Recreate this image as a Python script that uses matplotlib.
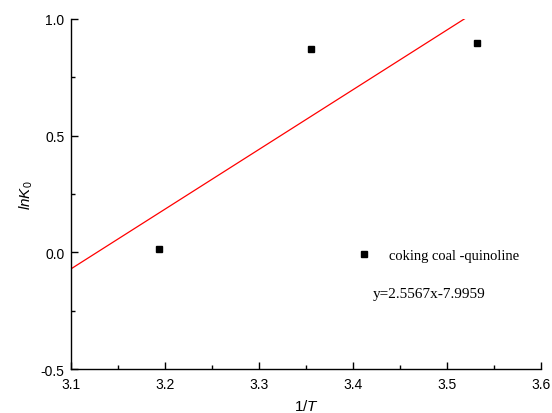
import matplotlib

matplotlib.use("Agg")
import matplotlib.pyplot as plt  # noqa: E402
import numpy as np  # noqa: E402
from matplotlib.ticker import MultipleLocator  # noqa: E402

# measured points (1/T in 1000/K, lnK0)
inv_t = [3.193, 3.355, 3.532]
ln_k0 = [0.015, 0.870, 0.895]

# linear fit reported on the chart
slope = 2.5567
intercept = -7.9959
fit_x = [3.1, (1.0 - intercept) / slope]

plt.rcParams["font.family"] = ["Liberation Sans", "DejaVu Sans"]
plt.rcParams["mathtext.fontset"] = "custom"
plt.rcParams["mathtext.rm"] = "Liberation Sans"
plt.rcParams["mathtext.it"] = "Liberation Sans:italic"

fig = plt.figure(figsize=(5.52, 4.14), dpi=100)
ax = fig.add_axes([0.129, 0.106, 0.851, 0.846])

fx = np.array(fit_x)
ax.plot(fx, slope * fx + intercept, color="red", linewidth=0.9)
ax.plot(inv_t, ln_k0, linestyle="none", marker="s", markersize=5.0,
        color="black", label="coking coal -quinoline")

ax.set_xlim(3.1, 3.6)
ax.set_ylim(-0.5, 1.0)
ax.xaxis.set_major_locator(MultipleLocator(0.1))
ax.xaxis.set_minor_locator(MultipleLocator(0.05))
ax.yaxis.set_major_locator(MultipleLocator(0.5))
ax.yaxis.set_minor_locator(MultipleLocator(0.25))
ax.set_xticklabels([f"{v:.1f}" for v in ax.get_xticks()])
ax.set_yticklabels([f"{v:.1f}" for v in ax.get_yticks()])
ax.tick_params(which="both", direction="in", labelsize=10, width=1)
ax.tick_params(which="major", length=5)
ax.tick_params(which="minor", length=3)
ax.tick_params(axis="x", pad=6)
ax.tick_params(axis="y", pad=5)
ax.spines["top"].set_visible(False)
ax.spines["right"].set_visible(False)
for s in ("left", "bottom"):
    ax.spines[s].set_linewidth(1.0)

ax.set_xlabel("1/$\\mathit{T}$", fontsize=11, labelpad=5)
ax.set_ylabel("$\\mathit{lnK}_{\\mathit{0}}$", fontsize=11, labelpad=4)

ax.legend(loc="upper left", bbox_to_anchor=(0.58, 0.38), frameon=False,
          prop={"family": "Liberation Serif", "size": 10.5},
          handletextpad=1.2, handlelength=1.0)
ax.text(0.643, 0.215, "y=2.5567x-7.9959", transform=ax.transAxes,
        family="Liberation Serif", fontsize=11, va="center")

fig.savefig("out.png", dpi=100)
